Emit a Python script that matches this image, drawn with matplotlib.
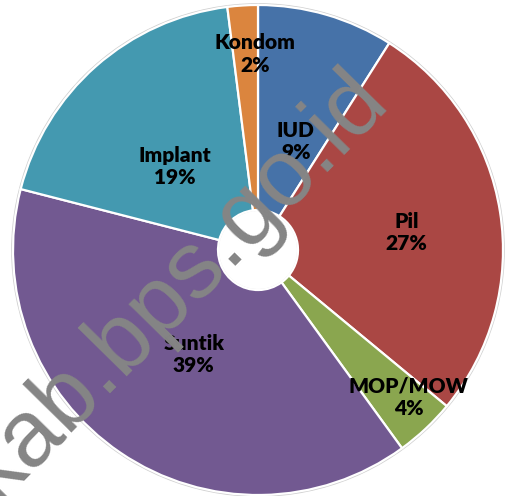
import numpy as np
import matplotlib
matplotlib.use("Agg")
import matplotlib.pyplot as plt
from matplotlib.patches import Circle

# Data
categories = ["IUD", "Pil", "MOP/MOW", "Suntik", "Implant", "Kondom"]
values = [9, 27, 4, 39, 19, 2]
colors = ["#4672A8", "#AA4744", "#8AA64F", "#725991", "#4499B0", "#DB853E"]
label_radius = [0.47, 0.61, 0.86, 0.50, 0.48, 0.80]
label_angle_shift = [-3.0, -2.4, 2.4, 2.6, 3.4, -2.7]
watermark = "kab.bps.go.id"

W, H = 508, 496
fig = plt.figure(figsize=(W / 100, H / 100), dpi=100)
ax = fig.add_axes([0, 0, 1, 1])

cx, cy = 258, H - 250
R = 245
hole = 40

wedges, _ = ax.pie(values, colors=colors, startangle=90, counterclock=False,
                   center=(cx, cy), radius=R,
                   wedgeprops=dict(width=R - hole, edgecolor="white", linewidth=1.6))
ax.add_patch(Circle((cx, cy), R + 1, fill=False, edgecolor="#d0d0d0", linewidth=1.2, zorder=0.5))
ax.add_patch(Circle((cx, cy), hole, fill=False, edgecolor="#e4e4e4", linewidth=1.5, zorder=0.6))

for w, cat, v, rf, da in zip(wedges, categories, values, label_radius, label_angle_shift):
    mid = np.deg2rad((w.theta1 + w.theta2) / 2 + da)
    x = cx + rf * R * np.cos(mid)
    y = cy + rf * R * np.sin(mid)
    ax.text(x, y, f"{cat}\n{v}%", ha="center", va="center", fontsize=15,
            fontweight="heavy", family="Lato", color="black",
            linespacing=1.2, zorder=5)

# watermark
ax.text(194, H - 302, watermark, rotation=45.5, rotation_mode="anchor",
        ha="center", va="baseline", fontsize=68, family="Liberation Sans",
        color="#858585", zorder=6)

ax.set_xlim(0, W)
ax.set_ylim(0, H)
ax.set_aspect("equal")
ax.axis("off")
fig.savefig("out.png", dpi=100)
